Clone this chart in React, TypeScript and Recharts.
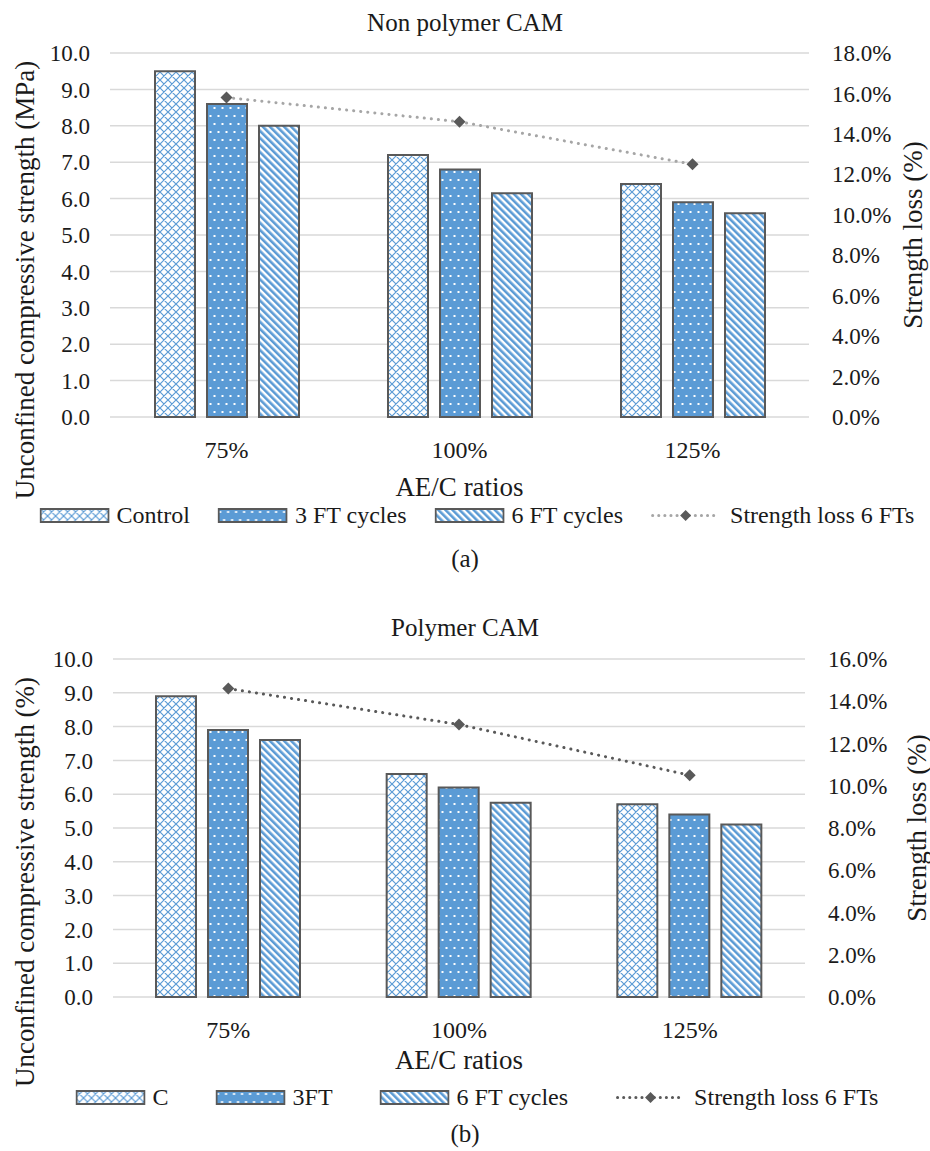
import React from 'react';
import { ComposedChart, Bar, Line, XAxis, YAxis, CartesianGrid } from 'recharts';

const FONT = '"Liberation Serif", Tinos, "Times New Roman", "DejaVu Serif", serif';
const BLUE = '#5b9bd5';
const EDGE = '#595959';
const TEXT = '#1a1a1a';

// ---- data ----
const categories = ['75%', '100%', '125%'];

const controlA = [9.5, 7.2, 6.4];
const ft3A = [8.6, 6.8, 5.9];
const ft6A = [8.0, 6.15, 5.6];
const lossA = [0.158, 0.146, 0.125];

const controlB = [8.9, 6.6, 5.7];
const ft3B = [7.9, 6.2, 5.4];
const ft6B = [7.6, 5.75, 5.1];
const lossB = [0.146, 0.129, 0.105];

const leftTicks = [0, 1, 2, 3, 4, 5, 6, 7, 8, 9, 10];
const rightTicksA = [0, 0.02, 0.04, 0.06, 0.08, 0.1, 0.12, 0.14, 0.16, 0.18];
const rightTicksB = [0, 0.02, 0.04, 0.06, 0.08, 0.1, 0.12, 0.14, 0.16];

const legendA = ['Control', '3 FT cycles', '6 FT cycles', 'Strength loss 6 FTs'];
const legendB = ['C', '3FT', '6 FT cycles', 'Strength loss 6 FTs'];

function buildRows(c: number[], f3: number[], f6: number[], loss: number[]) {
  return categories.map((cat, i) => ({ cat, control: c[i], ft3: f3[i], ft6: f6[i], loss: loss[i] }));
}

const dataA = buildRows(controlA, ft3A, ft6A, lossA);
const dataB = buildRows(controlB, ft3B, ft6B, lossB);

const Patterns = () => (
  <svg width={0} height={0} style={{ position: 'absolute' }}>
    <defs>
      <pattern id="pCtrl" width={8} height={8} patternUnits="userSpaceOnUse">
        <rect width={8} height={8} fill="#ffffff" />
        <path d="M0,0 L8,8 M8,0 L0,8 M-1,7 L1,9 M7,-1 L9,1" stroke={BLUE} strokeWidth={1.2} />
      </pattern>
      <pattern id="pDots" width={8} height={16} patternUnits="userSpaceOnUse">
        <rect width={8} height={16} fill={BLUE} />
        <rect x={1.5} y={3} width={2} height={2} fill="#ffffff" />
        <rect x={5.5} y={11} width={2} height={2} fill="#ffffff" />
      </pattern>
      <pattern id="pStripe" width={5} height={5} patternUnits="userSpaceOnUse" patternTransform="rotate(-45)">
        <rect width={5} height={5} fill="#ffffff" />
        <rect width={2.6} height={5} fill={BLUE} />
      </pattern>
    </defs>
  </svg>
);

const Diamond = (props: any) => {
  const { cx, cy, index, fill } = props;
  if (cx == null || cy == null) return <g key={`d${index}`} />;
  const r = 6;
  return (
    <polygon
      key={`d${index}`}
      points={`${cx},${cy - r} ${cx + r},${cy} ${cx},${cy + r} ${cx - r},${cy}`}
      fill={fill}
    />
  );
};

const Swatch = ({ fill }: { fill: string }) => (
  <svg width={70} height={15} style={{ display: 'block' }}>
    <rect x={1} y={1} width={68} height={13} fill={fill} stroke={EDGE} strokeWidth={2} />
  </svg>
);

const LineSwatch = ({ color }: { color: string }) => (
  <svg width={70} height={15} style={{ display: 'block' }}>
    <line x1={2} y1={7.5} x2={68} y2={7.5} stroke={color} strokeWidth={3} strokeDasharray="0.1 6" strokeLinecap="round" />
    <polygon points="35,2 40.5,7.5 35,13 29.5,7.5" fill={EDGE} />
  </svg>
);

type PanelProps = {
  top: number;
  height: number;
  chartHeight: number;
  data: any[];
  title: string;
  titleY: number;
  leftTitle: string;
  leftTitlePos: [number, number];
  rightTitlePos: [number, number];
  rightMax: number;
  rightTicks: number[];
  margin: { top: number; left: number; right: number; bottom: number };
  xTitleY: number;
  legendY: number;
  legendLabels: string[];
  legendGap: number;
  panelLabel: string;
  panelLabelY: number;
  lineColor: string;
};

const abs = (x: number, y: number, extra: any = {}) => ({
  position: 'absolute' as const,
  left: x,
  top: y,
  transform: 'translate(-50%, -50%)' + (extra.rotate ? ' rotate(-90deg)' : ''),
  whiteSpace: 'nowrap' as const,
  fontFamily: FONT,
  color: TEXT,
  lineHeight: 1,
  fontSize: extra.size || 24,
});

const Panel = (p: PanelProps) => {
  const plotCenter = p.margin.left + 80 + (930 - p.margin.left - p.margin.right - 160) / 2;
  return (
    <div style={{ position: 'absolute', left: 0, top: p.top, width: 930, height: p.height }}>
      <ComposedChart
        width={930}
        height={p.chartHeight}
        data={p.data}
        margin={p.margin}
        barGap={12}
        barSize={40}
        style={{ fontFamily: FONT }}
      >
        <CartesianGrid yAxisId="left" vertical={false} stroke="#d9d9d9" strokeWidth={1.5} />
        <XAxis
          dataKey="cat"
          height={40}
          tickLine={false}
          axisLine={false}
          tickSize={0}
          tickMargin={24}
          tick={{ fontSize: 24, fill: TEXT, fontFamily: FONT }}
        />
        <YAxis
          yAxisId="left"
          orientation="left"
          width={80}
          domain={[0, 10]}
          ticks={leftTicks}
          interval={0}
          tickLine={false}
          axisLine={false}
          tickSize={0}
          tickMargin={20}
          tickFormatter={(v: number) => v.toFixed(1)}
          tick={{ fontSize: 23, fill: TEXT, fontFamily: FONT }}
        />
        <YAxis
          yAxisId="right"
          orientation="right"
          width={80}
          domain={[0, p.rightMax]}
          ticks={p.rightTicks}
          interval={0}
          tickLine={false}
          axisLine={false}
          tickSize={0}
          tickMargin={23}
          tickFormatter={(v: number) => (v * 100).toFixed(1) + '%'}
          tick={{ fontSize: 23, fill: TEXT, fontFamily: FONT, textAnchor: 'start' }}
        />
        <Bar yAxisId="left" dataKey="control" fill="url(#pCtrl)" stroke={EDGE} strokeWidth={2} isAnimationActive={false} />
        <Bar yAxisId="left" dataKey="ft3" fill="url(#pDots)" stroke={EDGE} strokeWidth={2} isAnimationActive={false} />
        <Bar yAxisId="left" dataKey="ft6" fill="url(#pStripe)" stroke={EDGE} strokeWidth={2} isAnimationActive={false} />
        <Line
          yAxisId="right"
          type="linear"
          dataKey="loss"
          stroke={p.lineColor}
          strokeWidth={3}
          strokeDasharray="0.1 7"
          strokeLinecap="round"
          dot={(props: any) => <Diamond {...props} fill={EDGE} />}
          activeDot={false}
          isAnimationActive={false}
        />
      </ComposedChart>
      <div style={abs(465, p.titleY, { size: 25 })}>{p.title}</div>
      <div style={abs(p.leftTitlePos[0], p.leftTitlePos[1], { rotate: true, size: 27 })}>{p.leftTitle}</div>
      <div style={abs(p.rightTitlePos[0], p.rightTitlePos[1], { rotate: true, size: 27 })}>Strength loss (%)</div>
      <div style={abs(plotCenter, p.xTitleY, { size: 27 })}>AE/C ratios</div>
      <div
        style={{
          position: 'absolute',
          left: 477,
          top: p.legendY,
          transform: 'translate(-50%, -50%)',
          display: 'flex',
          alignItems: 'center',
          gap: p.legendGap,
          whiteSpace: 'nowrap',
          fontFamily: FONT,
          fontSize: 24,
          color: TEXT,
          lineHeight: 1,
        }}
      >
        {['url(#pCtrl)', 'url(#pDots)', 'url(#pStripe)'].map((f, i) => (
          <div key={i} style={{ display: 'flex', alignItems: 'center', gap: 7 }}>
            <Swatch fill={f} />
            <span>{p.legendLabels[i]}</span>
          </div>
        ))}
        <div style={{ display: 'flex', alignItems: 'center', gap: 9 }}>
          <LineSwatch color={p.lineColor} />
          <span>{p.legendLabels[3]}</span>
        </div>
      </div>
      <div style={abs(465, p.panelLabelY, { size: 25 })}>{p.panelLabel}</div>
    </div>
  );
};

export default function App() {
  return (
    <div style={{ position: 'absolute', left: 0, top: 0, width: 930, height: 1151, background: '#fff', overflow: 'hidden', fontFamily: FONT }}>
      <Patterns />
      <Panel
        top={0}
        height={590}
        chartHeight={470}
        data={dataA}
        title="Non polymer CAM"
        titleY={22}
        leftTitle="Unconfined compressive strength (MPa)"
        leftTitlePos={[25, 280]}
        rightTitlePos={[913, 235]}
        rightMax={0.18}
        rightTicks={rightTicksA}
        margin={{ top: 53, left: 30, right: 41, bottom: 13 }}
        xTitleY={487}
        legendY={515}
        legendLabels={legendA}
        legendGap={28}
        panelLabel="(a)"
        panelLabelY={558}
        lineColor="#a6a6a6"
      />
      <Panel
        top={600}
        height={551}
        chartHeight={450}
        data={dataB}
        title="Polymer CAM"
        titleY={27}
        leftTitle="Unconfined compressive strength (%)"
        leftTitlePos={[25, 282]}
        rightTitlePos={[917, 228]}
        rightMax={0.16}
        rightTicks={rightTicksB}
        margin={{ top: 59, left: 33, right: 45, bottom: 13 }}
        xTitleY={460}
        legendY={497}
        legendLabels={legendB}
        legendGap={47}
        panelLabel="(b)"
        panelLabelY={533}
        lineColor="#595959"
      />
    </div>
  );
}
